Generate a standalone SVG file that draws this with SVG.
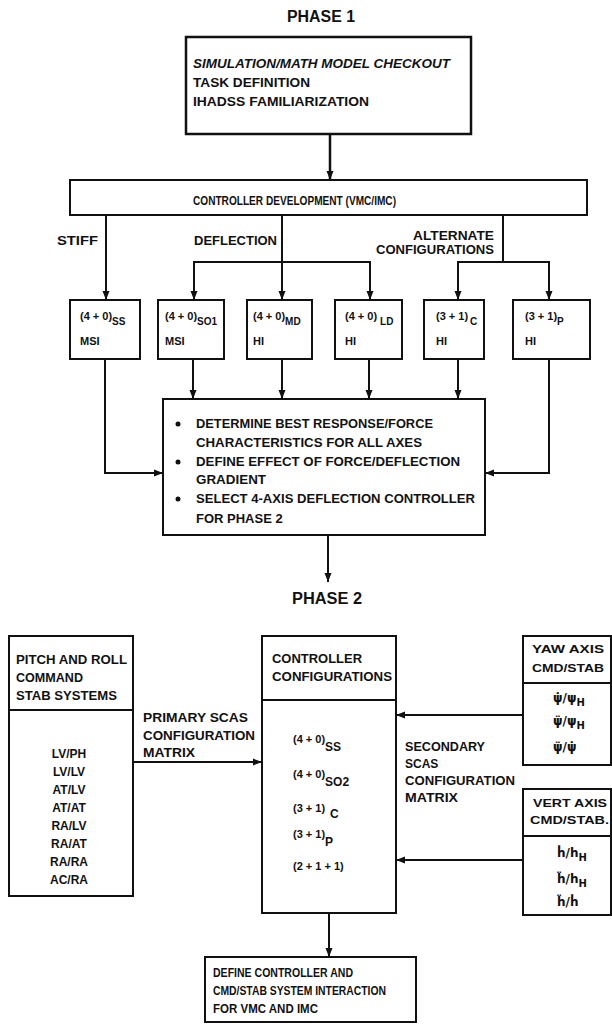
<svg xmlns="http://www.w3.org/2000/svg" width="612" height="1028" viewBox="0 0 612 1028">
<style>
.box{fill:#fff;stroke:#111;stroke-width:2}
.ln{fill:none;stroke:#111;stroke-width:2}
.t{font-family:"Liberation Sans",Arial,sans-serif;font-weight:bold;fill:#111;font-size:12px}
.h{font-size:16px}
.m{font-size:13px}
.s{font-size:11px}
.sub{font-size:10px}
.g{font-family:"DejaVu Sans",sans-serif;font-weight:bold;fill:#111;font-size:12px}
</style>
<defs>
<marker id="ah" markerUnits="userSpaceOnUse" markerWidth="10" markerHeight="8" refX="9" refY="4" orient="auto">
<path d="M0,0.5 L9,4 L0,7.5 z" fill="#111"/>
</marker>
</defs>
<rect width="612" height="1028" fill="#fff"/>

<text class="t h" x="287" y="22" textLength="68" lengthAdjust="spacingAndGlyphs">PHASE 1</text>

<g id="n-setup">
<rect class="box" x="186" y="37" width="285" height="97" style="stroke-width:2.5"/>
<text class="t m" x="193" y="68" font-style="italic" textLength="257" lengthAdjust="spacingAndGlyphs">SIMULATION/MATH MODEL CHECKOUT</text>
<text class="t m" x="193" y="87" textLength="117" lengthAdjust="spacingAndGlyphs">TASK DEFINITION</text>
<text class="t m" x="193" y="106" textLength="176" lengthAdjust="spacingAndGlyphs">IHADSS FAMILIARIZATION</text>
</g>

<g id="n-ctrl-dev">
<rect class="box" x="70" y="180" width="517" height="35"/>
<text class="t" x="193" y="205" textLength="203" lengthAdjust="spacingAndGlyphs">CONTROLLER DEVELOPMENT (VMC/IMC)</text>
</g>

<g id="n-ss">
<rect class="box" x="70" y="300" width="70" height="59"/>
<text class="t s" x="80" y="320">(4 + 0)<tspan class="sub" dy="5">SS</tspan></text>
<text class="t s" x="80" y="345">MSI</text>
</g>
<g id="n-so1">
<rect class="box" x="158" y="300" width="66" height="59"/>
<text class="t s" x="165" y="320">(4 + 0)<tspan class="sub" dy="5">SO1</tspan></text>
<text class="t s" x="165" y="345">MSI</text>
</g>
<g id="n-md">
<rect class="box" x="247" y="300" width="65" height="59"/>
<text class="t s" x="253" y="320">(4 + 0)<tspan class="sub" dy="5">MD</tspan></text>
<text class="t s" x="253" y="345">HI</text>
</g>
<g id="n-ld">
<rect class="box" x="335" y="300" width="67" height="59"/>
<text class="t s" x="345" y="320">(4 + 0)<tspan class="sub" dy="5" dx="3">LD</tspan></text>
<text class="t s" x="345" y="345">HI</text>
</g>
<g id="n-c">
<rect class="box" x="424" y="300" width="60" height="59"/>
<text class="t s" x="436" y="320">(3 + 1)<tspan class="sub" dy="5" dx="2">C</tspan></text>
<text class="t s" x="436" y="345">HI</text>
</g>
<g id="n-p">
<rect class="box" x="513" y="300" width="77" height="59"/>
<text class="t s" x="525" y="320">(3 + 1)<tspan class="sub" dy="5">P</tspan></text>
<text class="t s" x="525" y="345">HI</text>
</g>

<g id="n-determine">
<rect class="box" x="163" y="399" width="322" height="136"/>
<circle cx="178" cy="424" r="2.5" fill="#111"/>
<text class="t m" x="196" y="428" textLength="237" lengthAdjust="spacingAndGlyphs">DETERMINE BEST RESPONSE/FORCE</text>
<text class="t m" x="196" y="447" textLength="226" lengthAdjust="spacingAndGlyphs">CHARACTERISTICS FOR ALL AXES</text>
<circle cx="178" cy="462" r="2.5" fill="#111"/>
<text class="t m" x="196" y="466" textLength="264" lengthAdjust="spacingAndGlyphs">DEFINE EFFECT OF FORCE/DEFLECTION</text>
<text class="t m" x="196" y="484" textLength="70" lengthAdjust="spacingAndGlyphs">GRADIENT</text>
<circle cx="178" cy="499" r="2.5" fill="#111"/>
<text class="t m" x="196" y="503" textLength="279" lengthAdjust="spacingAndGlyphs">SELECT 4-AXIS DEFLECTION CONTROLLER</text>
<text class="t m" x="196" y="523">FOR PHASE 2</text>
</g>

<text class="t h" x="292" y="604" textLength="70" lengthAdjust="spacingAndGlyphs">PHASE 2</text>

<g id="n-pitch">
<rect class="box" x="9" y="636" width="124" height="260"/>
<line class="ln" x1="9" y1="710" x2="133" y2="710"/>
<text class="t" x="16" y="664" textLength="111" lengthAdjust="spacingAndGlyphs">PITCH AND ROLL</text>
<text class="t" x="16" y="682" textLength="67" lengthAdjust="spacingAndGlyphs">COMMAND</text>
<text class="t" x="16" y="700" textLength="101" lengthAdjust="spacingAndGlyphs">STAB  SYSTEMS</text>
<g text-anchor="middle">
<text class="t" x="69" y="758">LV/PH</text>
<text class="t" x="69" y="776">LV/LV</text>
<text class="t" x="69" y="794">AT/LV</text>
<text class="t" x="69" y="812">AT/AT</text>
<text class="t" x="69" y="830">RA/LV</text>
<text class="t" x="69" y="848">RA/AT</text>
<text class="t" x="69" y="866">RA/RA</text>
<text class="t" x="69" y="884">AC/RA</text>
</g>
</g>

<g id="n-configs">
<rect class="box" x="262" y="636" width="134" height="277"/>
<line class="ln" x1="262" y1="700" x2="396" y2="700"/>
<text class="t" x="272" y="663" textLength="90" lengthAdjust="spacingAndGlyphs">CONTROLLER</text>
<text class="t" x="272" y="681" textLength="120" lengthAdjust="spacingAndGlyphs">CONFIGURATIONS</text>
<text class="t s" x="293" y="743">(4 + 0)<tspan class="t" dy="8">SS</tspan></text>
<text class="t s" x="293" y="778">(4 + 0)<tspan class="t" dy="8">SO2</tspan></text>
<text class="t s" x="293" y="812">(3 + 1)<tspan class="t" dy="6" dx="5">C</tspan></text>
<text class="t s" x="293" y="838">(3 + 1)<tspan class="t" dy="8">P</tspan></text>
<text class="t s" x="293" y="870">(2 + 1 + 1)</text>
</g>

<g id="n-yaw">
<rect class="box" x="523" y="636" width="88" height="129"/>
<line class="ln" x1="523" y1="683" x2="611" y2="683"/>
<text class="t s" x="532" y="653" textLength="72" lengthAdjust="spacingAndGlyphs">YAW AXIS</text>
<text class="t s" x="532" y="672" textLength="72" lengthAdjust="spacingAndGlyphs">CMD/STAB</text>
<text class="g" x="553" y="702">&#968;&#775;/&#968;<tspan font-size="10" dy="4">H</tspan></text>
<text class="g" x="553" y="725">&#968;&#776;/&#968;<tspan font-size="10" dy="4">H</tspan></text>
<text class="g" x="553" y="751">&#968;&#776;/&#968;&#775;</text>
</g>

<g id="n-vert">
<rect class="box" x="523" y="789" width="88" height="126"/>
<line class="ln" x1="523" y1="836" x2="611" y2="836"/>
<text class="t s" x="533" y="807" textLength="74" lengthAdjust="spacingAndGlyphs">VERT AXIS</text>
<text class="t s" x="530" y="824" textLength="79" lengthAdjust="spacingAndGlyphs">CMD/STAB.</text>
<text class="g" x="557" y="857">&#7715;/h<tspan font-size="10" dy="4">H</tspan></text>
<text class="g" x="557" y="883">&#7719;/h<tspan font-size="10" dy="4">H</tspan></text>
<text class="g" x="557" y="906">&#7719;/&#7715;</text>
</g>

<g id="n-define">
<rect class="box" x="205" y="957" width="211" height="65"/>
<text class="t" x="213" y="977" textLength="140" lengthAdjust="spacingAndGlyphs">DEFINE CONTROLLER AND</text>
<text class="t" x="213" y="995" textLength="173" lengthAdjust="spacingAndGlyphs">CMD/STAB SYSTEM INTERACTION</text>
<text class="t" x="213" y="1013" textLength="105" lengthAdjust="spacingAndGlyphs">FOR VMC AND IMC</text>
</g>

<g id="labels">
<text class="t" x="57" y="245" textLength="41" lengthAdjust="spacingAndGlyphs">STIFF</text>
<text class="t" x="194" y="245" textLength="83" lengthAdjust="spacingAndGlyphs">DEFLECTION</text>
<text class="t" x="413" y="240" textLength="81" lengthAdjust="spacingAndGlyphs">ALTERNATE</text>
<text class="t" x="376" y="254" textLength="118" lengthAdjust="spacingAndGlyphs">CONFIGURATIONS</text>
<text class="t" x="143" y="722" textLength="105" lengthAdjust="spacingAndGlyphs">PRIMARY SCAS</text>
<text class="t" x="143" y="740" textLength="112" lengthAdjust="spacingAndGlyphs">CONFIGURATION</text>
<text class="t" x="143" y="757" textLength="52" lengthAdjust="spacingAndGlyphs">MATRIX</text>
<text class="t" x="405" y="751" textLength="80" lengthAdjust="spacingAndGlyphs">SECONDARY</text>
<text class="t" x="405" y="768">SCAS</text>
<text class="t" x="405" y="785" textLength="110" lengthAdjust="spacingAndGlyphs">CONFIGURATION</text>
<text class="t" x="405" y="802" textLength="53" lengthAdjust="spacingAndGlyphs">MATRIX</text>
</g>

<g id="connectors">
<line class="ln" x1="330" y1="134" x2="330" y2="180" marker-end="url(#ah)" style="stroke-width:2.5"/>
<line class="ln" x1="106" y1="215" x2="106" y2="300" marker-end="url(#ah)"/>
<line class="ln" x1="282" y1="215" x2="282" y2="300" marker-end="url(#ah)"/>
<polyline class="ln" points="194,300 194,262 370,262 370,300"/>
<line class="ln" x1="194" y1="280" x2="194" y2="300" marker-end="url(#ah)"/>
<line class="ln" x1="370" y1="280" x2="370" y2="300" marker-end="url(#ah)"/>
<line class="ln" x1="503" y1="215" x2="503" y2="262"/>
<polyline class="ln" points="458,300 458,262 549,262 549,300"/>
<line class="ln" x1="458" y1="280" x2="458" y2="300" marker-end="url(#ah)"/>
<line class="ln" x1="549" y1="280" x2="549" y2="300" marker-end="url(#ah)"/>
<polyline class="ln" points="105,359 105,473 163,473" marker-end="url(#ah)"/>
<line class="ln" x1="193" y1="359" x2="193" y2="399" marker-end="url(#ah)"/>
<line class="ln" x1="282" y1="359" x2="282" y2="399" marker-end="url(#ah)"/>
<line class="ln" x1="369" y1="359" x2="369" y2="399" marker-end="url(#ah)"/>
<line class="ln" x1="458" y1="359" x2="458" y2="399" marker-end="url(#ah)"/>
<polyline class="ln" points="549,359 549,473 485,473" marker-end="url(#ah)"/>
<line class="ln" x1="328" y1="535" x2="328" y2="582" marker-end="url(#ah)"/>
<line class="ln" x1="133" y1="762" x2="262" y2="762" marker-end="url(#ah)"/>
<line class="ln" x1="523" y1="715" x2="396" y2="715" marker-end="url(#ah)"/>
<line class="ln" x1="523" y1="860" x2="396" y2="860" marker-end="url(#ah)"/>
<line class="ln" x1="329" y1="913" x2="329" y2="957" marker-end="url(#ah)"/>
</g>
</svg>
